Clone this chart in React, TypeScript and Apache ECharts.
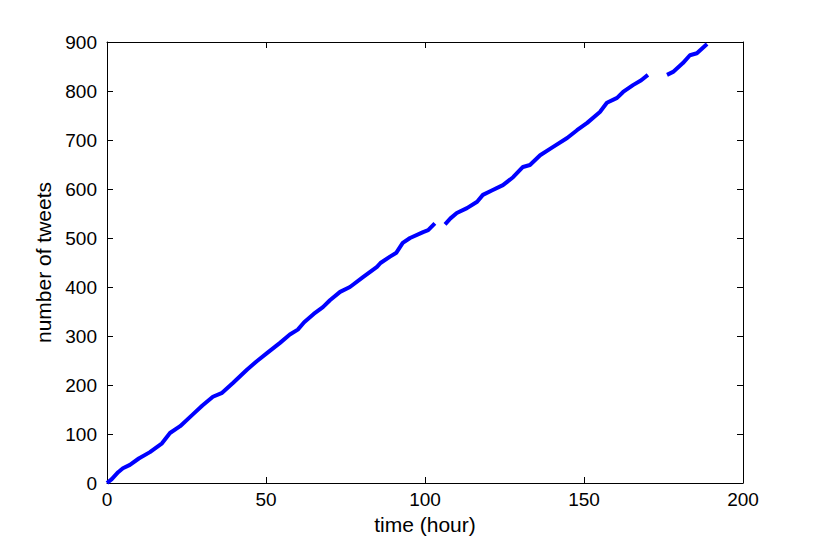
import React, { useEffect, useRef } from "react";
import * as echarts from "echarts";

const segment1: [number, number][] = [
  [0, 0], [1.5, 8], [3.5, 22], [5, 30], [7.2, 37], [10, 50], [13.5, 63], [17.3, 81],
  [19.8, 102], [23, 116], [27, 140], [30, 158], [33.3, 176], [36.2, 184], [39.6, 204],
  [44, 231], [47, 248], [50.3, 265], [54.4, 286], [57.5, 303], [60, 313], [62, 328],
  [65, 345], [67.9, 359], [70.1, 373], [73.3, 390], [76.4, 400], [80.5, 420], [84.9, 441],
  [86, 449], [89, 462], [91, 470], [93, 490], [95.3, 500], [99.4, 512], [101, 516], [103.1, 530],
];
const segment2: [number, number][] = [
  [106.3, 528], [108, 540], [110, 551], [113.2, 561], [116.4, 574], [118.2, 588], [121, 597],
  [124.5, 608], [127.7, 624], [130.8, 645], [133, 649], [136.2, 669], [140.3, 686],
  [144.7, 704], [147.8, 720], [151, 735], [155, 757], [157.2, 776], [160.4, 786],
  [162.3, 798], [165.4, 812], [168, 822], [170.1, 833],
];
const segment3: [number, number][] = [
  [176.1, 833], [178, 839], [181.1, 857], [183.3, 873], [185.5, 877], [188.7, 896],
];
const xTicks = { min: 0, max: 200, interval: 50 };
const yTicks = { min: 0, max: 900, interval: 100 };
const xLabel = "time (hour)";
const yLabel = "number of tweets";

export default function App() {
  const ref = useRef<HTMLDivElement>(null);
  useEffect(() => {
    if (!ref.current) return;
    const chart = echarts.init(ref.current, undefined, { renderer: "svg" });
    const font = "Liberation Sans, Arial, Helvetica, sans-serif";
    const axisLine = { show: true, onZero: false, lineStyle: { color: "#000", width: 1 } };
    const tick = { show: true, inside: true, length: 6, lineStyle: { color: "#000", width: 1 } };
    const lineSeries = (data: [number, number][]) => ({
      type: "line",
      data,
      showSymbol: false,
      smooth: false,
      lineStyle: { color: "#0000ff", width: 4 },
      itemStyle: { color: "#0000ff" },
      xAxisIndex: 0,
      yAxisIndex: 0,
    });
    chart.setOption({
      animation: false,
      backgroundColor: "#ffffff",
      grid: { left: 107, right: 79, top: 42, bottom: 61, containLabel: false },
      xAxis: [
        {
          type: "value", position: "bottom", ...xTicks,
          axisLine, axisTick: tick, splitLine: { show: false },
          axisLabel: { color: "#000", fontSize: 19, fontFamily: font, margin: 7 },
          name: xLabel, nameLocation: "middle", nameGap: 31,
          nameTextStyle: { color: "#000", fontSize: 21, fontFamily: font },
        },
        {
          type: "value", position: "top", ...xTicks,
          axisLine, axisTick: tick, splitLine: { show: false },
          axisLabel: { show: false },
        },
      ],
      yAxis: [
        {
          type: "value", position: "left", ...yTicks,
          axisLine, axisTick: tick, splitLine: { show: false },
          axisLabel: { color: "#000", fontSize: 19, fontFamily: font, margin: 10 },
          name: yLabel, nameLocation: "middle", nameGap: 51,
          nameTextStyle: { color: "#000", fontSize: 21, fontFamily: font },
        },
        {
          type: "value", position: "right", ...yTicks,
          axisLine, axisTick: tick, splitLine: { show: false },
          axisLabel: { show: false },
        },
      ],
      series: [lineSeries(segment1), lineSeries(segment2), lineSeries(segment3)],
    });
    return () => chart.dispose();
  }, []);
  return (
    <div
      ref={ref}
      style={{ position: "fixed", left: 0, top: 0, width: 822, height: 544, background: "#fff" }}
    />
  );
}
